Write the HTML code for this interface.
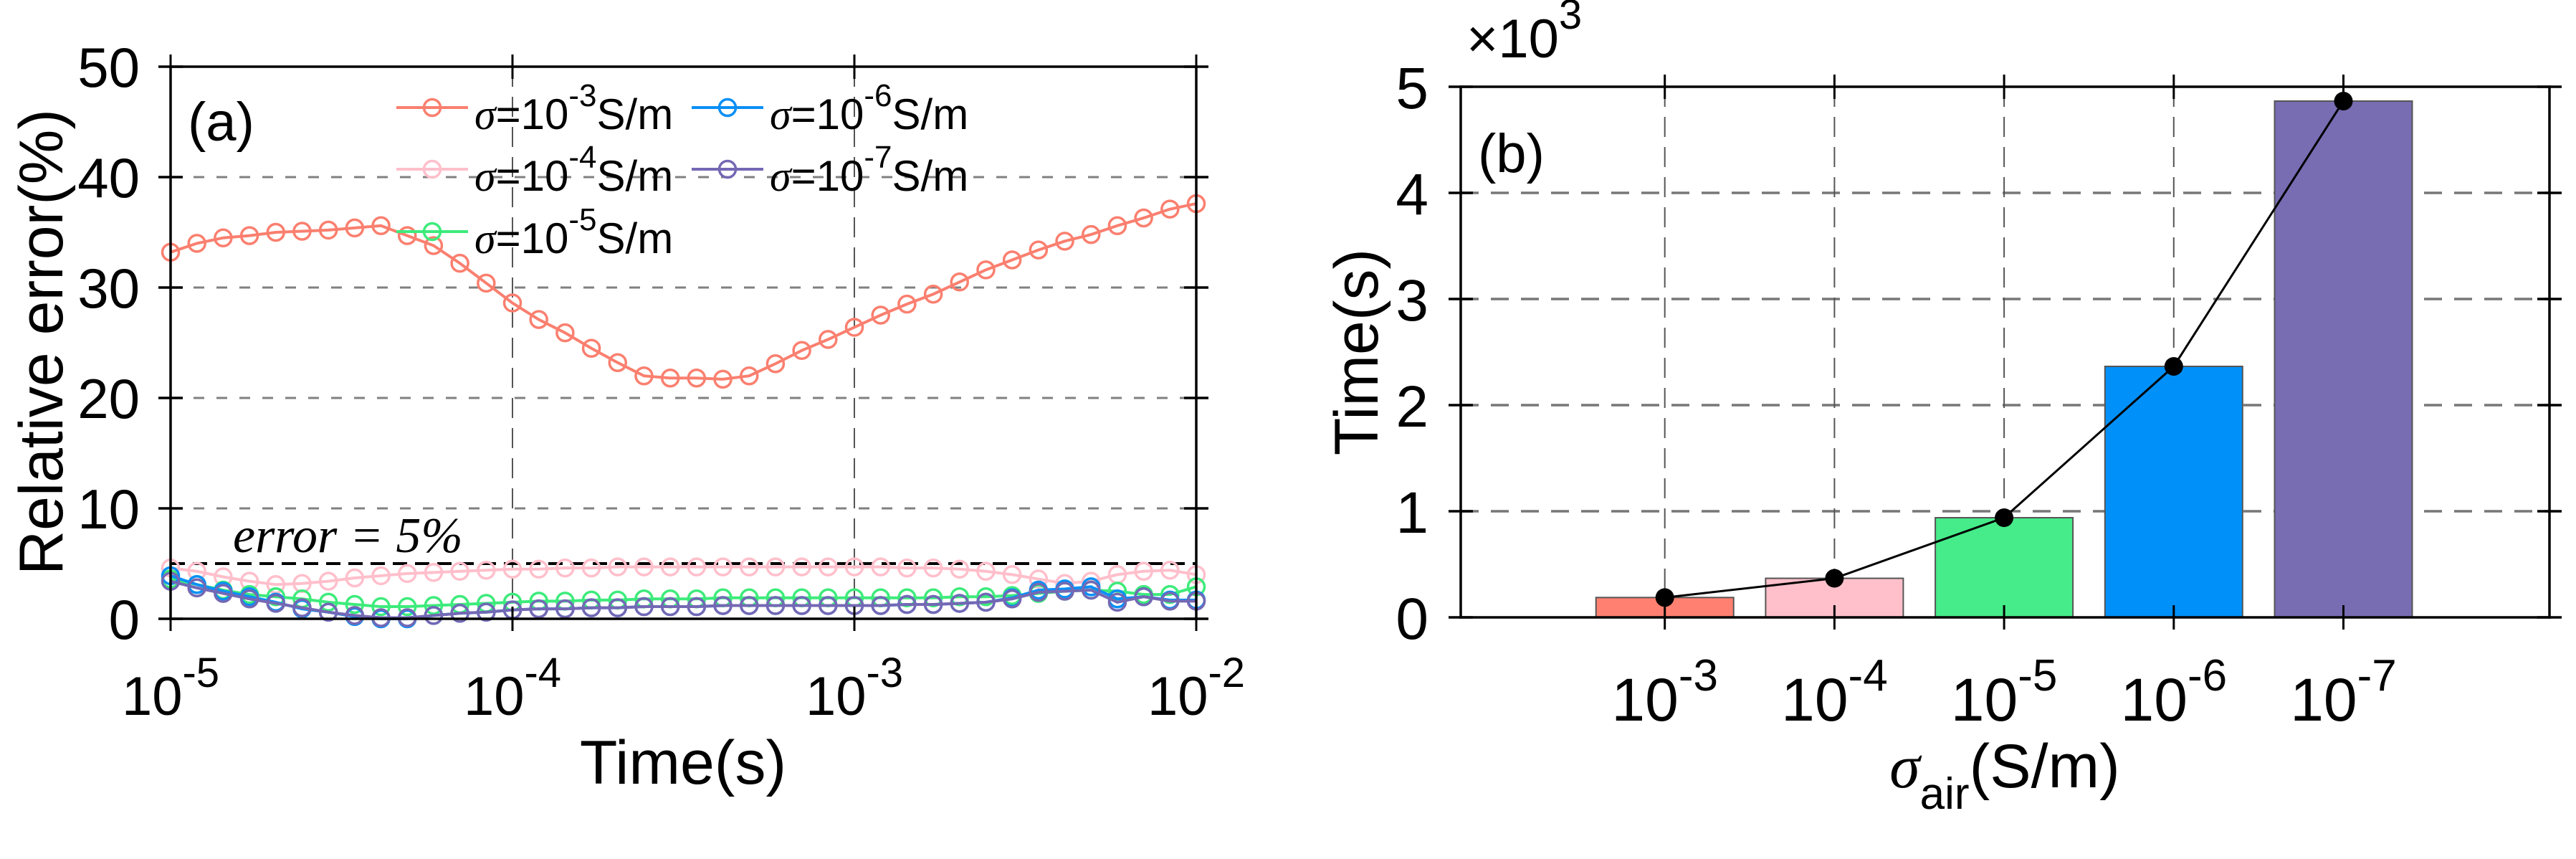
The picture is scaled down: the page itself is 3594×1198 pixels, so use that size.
<!DOCTYPE html>
<html><head><meta charset="utf-8"><style>
html,body{margin:0;padding:0;background:#fff}
svg{display:block}
text{font-family:"Liberation Sans",sans-serif;fill:#000}
.it{font-family:"Liberation Serif",serif;font-style:italic}
</style></head><body>
<svg id="fig" width="3594" height="1198" viewBox="0 0 3594 1198" xmlns="http://www.w3.org/2000/svg">
<g id="pa"></g>
<g id="pb"></g>
<text x="262" y="196" font-size="76">(a)</text>
<text x="2062" y="240" font-size="76">(b)</text>
<text transform="translate(87,477) rotate(-90)" text-anchor="middle" font-size="86">Relative error(%)</text>
<text x="953" y="1093" text-anchor="middle" font-size="86">Time(s)</text>
<text transform="translate(1922,491) rotate(-90)" text-anchor="middle" font-size="86">Time(s)</text>
<text x="2797" y="1098" text-anchor="middle" font-size="86"><tspan class="it">σ</tspan><tspan font-size="62" dy="30">air</tspan><tspan dy="-30">(S/m)</tspan></text>
<text x="2046" y="80" font-size="76">×10<tspan font-size="58" dy="-40">3</tspan></text>
<text class="it" x="325" y="770" font-size="70">error = 5%</text>
</svg>
<script>
// ---------- Panel (a) data ----------
const aYTicks = [0,10,20,30,40,50];
const aXTickExp = [-5,-4,-3,-2];
const aNPoints = 40;
const sRed = [33.2,34.0,34.5,34.7,35.0,35.1,35.2,35.4,35.6,34.7,33.8,32.2,30.4,28.6,27.1,25.9,24.5,23.2,22.0,21.8,21.8,21.7,22.0,23.1,24.3,25.3,26.4,27.5,28.5,29.4,30.5,31.6,32.5,33.4,34.2,34.8,35.6,36.3,37.1,37.6];
const sPink = [4.6,4.3,3.8,3.4,3.1,3.2,3.4,3.7,3.9,4.1,4.2,4.3,4.4,4.5,4.5,4.6,4.6,4.7,4.7,4.7,4.7,4.7,4.7,4.7,4.7,4.7,4.7,4.7,4.6,4.6,4.5,4.3,4.0,3.6,3.2,3.4,4.0,4.3,4.4,4.0];
const sGreen = [3.6,3.1,2.6,2.2,2.0,1.8,1.5,1.3,1.1,1.1,1.2,1.3,1.4,1.5,1.6,1.6,1.7,1.7,1.8,1.8,1.8,1.9,1.9,1.9,1.9,1.9,1.9,1.9,1.9,1.9,2.0,2.0,2.1,2.3,2.5,2.6,2.5,2.2,2.2,2.9];
const sBlue = [3.9,3.1,2.5,2.0,1.5,0.9,0.6,0.2,0.0,0.0,0.3,0.5,0.6,0.8,0.9,0.9,1.0,1.0,1.1,1.1,1.1,1.2,1.2,1.2,1.2,1.2,1.2,1.2,1.3,1.3,1.4,1.5,1.9,2.6,2.7,2.9,1.8,2.0,1.7,1.7];
const sPurple = [3.4,2.8,2.3,1.8,1.4,1.0,0.6,0.3,0.1,0.1,0.3,0.5,0.6,0.8,0.9,0.9,1.0,1.0,1.1,1.1,1.1,1.2,1.2,1.2,1.2,1.2,1.2,1.2,1.3,1.3,1.4,1.5,1.8,2.4,2.5,2.6,1.5,2.0,1.6,1.6];
const aSeriesExp = ["-3","-4","-5","-6","-7"];
const errorLevel = 5;
// ---------- Panel (b) data ----------
const bCategories = ["-3","-4","-5","-6","-7"];
const bValues = [187,368,939,2365,4865];
const bYTicks = [0,1000,2000,3000,4000,5000];
const bYTickLabels = ["0","1","2","3","4","5"];

const NS="http://www.w3.org/2000/svg";
function mk(parent,tag,attrs){const e=document.createElementNS(NS,tag);for(const k in attrs)e.setAttribute(k,attrs[k]);parent.appendChild(e);return e;}

// ---- axes functions panel a
const aL=238,aR=1669,aT=93,aB=863;
const ax = lg => aL + (lg+5)/3*(aR-aL);
const ay = v => aB - v/50*(aB-aT);
const tOf = i => -5 + i*3/(aNPoints-1);
const pa=document.getElementById('pa');
aYTicks.forEach(v=>{ if(v>0&&v<50){const g=mk(pa,'line',{x1:aL,x2:aR,y1:ay(v),y2:ay(v),stroke:'#808080','stroke-width':3,'stroke-dasharray':'15 17'});

}});
aXTickExp.forEach(e=>{ if(e>-5&&e<-2){const g=mk(pa,'line',{x1:ax(e),x2:ax(e),y1:aT,y2:aB,stroke:'#555','stroke-width':2,'stroke-dasharray':'28 14'});

}});
const el=mk(pa,'line',{x1:aL,x2:aR,y1:ay(errorLevel),y2:ay(errorLevel),stroke:'#000','stroke-width':4,'stroke-dasharray':'20 11'});


const aSeries=[sRed,sPink,sGreen,sBlue,sPurple];
const aColors=['#FA7F6F','#FFBFCB','#3DEB7B','#0A8FF6','#7468B4'];
const aNames=['series-1e-3','series-1e-4','series-1e-5','series-1e-6','series-1e-7'];
aSeries.forEach((s,k)=>{
  const g=mk(pa,'g',{});
  
  
  const pts=s.map((v,i)=>ax(tOf(i))+','+ay(v)).join(' ');
  const pl=mk(g,'polyline',{points:pts,fill:'none',stroke:aColors[k],'stroke-width':4});
  
  
  s.forEach((v,i)=>{const c=mk(g,'circle',{cx:ax(tOf(i)),cy:ay(v),r:11.5,fill:'none',stroke:aColors[k],'stroke-width':3.5});
  
  });
});
[[aL,aT,aR,aT],[aL,aB,aR,aB],[aL,aT,aL,aB],[aR,aT,aR,aB]].forEach(p=>{const l=mk(pa,'line',{x1:p[0],y1:p[1],x2:p[2],y2:p[3],stroke:'#000','stroke-width':3.5,'stroke-linecap':'square'});

});
aYTicks.forEach(v=>{
  [aL,aR].forEach(x=>{const t=mk(pa,'line',{x1:x-17,x2:x+17,y1:ay(v),y2:ay(v),stroke:'#000','stroke-width':3.5});
  
  });
  const tx=mk(pa,'text',{x:195,y:ay(v)+28,'text-anchor':'end','font-size':78});
  tx.textContent=String(v);
  
  
});
aXTickExp.forEach(e=>{
  [aT,aB].forEach(y=>{const t=mk(pa,'line',{x1:ax(e),x2:ax(e),y1:y-17,y2:y+17,stroke:'#000','stroke-width':3});
  
  });
  const tx=mk(pa,'text',{x:ax(e),y:997,'text-anchor':'middle','font-size':76});
  const a=mk(tx,'tspan',{});a.textContent='10';
  const b=mk(tx,'tspan',{dy:-39,'font-size':58});b.textContent=String(e);
  
  
});
const legPos=[[553,150],[553,236],[553,323],[965,150],[965,236]];
aSeriesExp.forEach((e,k)=>{
  const g=mk(pa,'g',{});
  
  
  const [x,y]=legPos[k];
  mk(g,'line',{x1:x,x2:x+100,y1:y,y2:y,stroke:aColors[k],'stroke-width':4});
  mk(g,'circle',{cx:x+50,cy:y,r:11.5,fill:'none',stroke:aColors[k],'stroke-width':3.5});
  const tx=mk(g,'text',{x:x+109,y:y+30,'font-size':60});
  const s=mk(tx,'tspan',{class:'it'});s.textContent='σ';
  const a=mk(tx,'tspan',{});a.textContent='=10';
  const b=mk(tx,'tspan',{dy:-32,'font-size':44});b.textContent=e;
  const c=mk(tx,'tspan',{dy:32});c.textContent='S/m';
});

// ---- panel b
const bL=2038,bR=3557,bT=121,bB=861;
const bx = i => 2086 + (i+1)*236.7;
const by = v => bB - v/5000*(bB-bT);
const pb=document.getElementById('pb');
bYTicks.forEach(v=>{ if(v>0&&v<5000){const g=mk(pb,'line',{x1:bL,x2:bR,y1:by(v),y2:by(v),stroke:'#777','stroke-width':3.5,'stroke-dasharray':'25 17'});

}});
bCategories.forEach((c,i)=>{const g=mk(pb,'line',{x1:bx(i),x2:bx(i),y1:bT,y2:bB,stroke:'#555','stroke-width':2,'stroke-dasharray':'28 14'});

});
const bColors=['#FF8070','#FFC0CB','#45EC89','#0090F9','#786CB2'];
bValues.forEach((v,i)=>{
  const r=mk(pb,'rect',{x:bx(i)-96,y:by(v),width:192,height:bB-by(v),fill:bColors[i],stroke:'#555','stroke-width':2});
  
  
});
const bl=mk(pb,'polyline',{points:bValues.map((v,i)=>bx(i)+','+by(v)).join(' '),fill:'none',stroke:'#000','stroke-width':3});


bValues.forEach((v,i)=>{const c=mk(pb,'circle',{cx:bx(i),cy:by(v),r:13,fill:'#000'});

});
[[bL,bT,bR,bT],[bL,bB,bR,bB],[bL,bT,bL,bB],[bR,bT,bR,bB]].forEach(p=>{const l=mk(pb,'line',{x1:p[0],y1:p[1],x2:p[2],y2:p[3],stroke:'#000','stroke-width':3.5,'stroke-linecap':'square'});

});
bYTicks.forEach((v,i)=>{
  [bL,bR].forEach(x=>{const t=mk(pb,'line',{x1:x-17,x2:x+17,y1:by(v),y2:by(v),stroke:'#000','stroke-width':3.5});
  
  });
  const tx=mk(pb,'text',{x:1993,y:by(v)+30,'text-anchor':'end','font-size':82});
  tx.textContent=bYTickLabels[i];
  
  
});
bCategories.forEach((c,i)=>{
  [bT,bB].forEach(y=>{const t=mk(pb,'line',{x1:bx(i),x2:bx(i),y1:y-17,y2:y+17,stroke:'#000','stroke-width':3});
  
  });
  const tx=mk(pb,'text',{x:bx(i),y:1005,'text-anchor':'middle','font-size':84});
  const a=mk(tx,'tspan',{});a.textContent='10';
  const b=mk(tx,'tspan',{dy:-42,'font-size':62});b.textContent=c;
  
  
});
</script>
</body></html>
